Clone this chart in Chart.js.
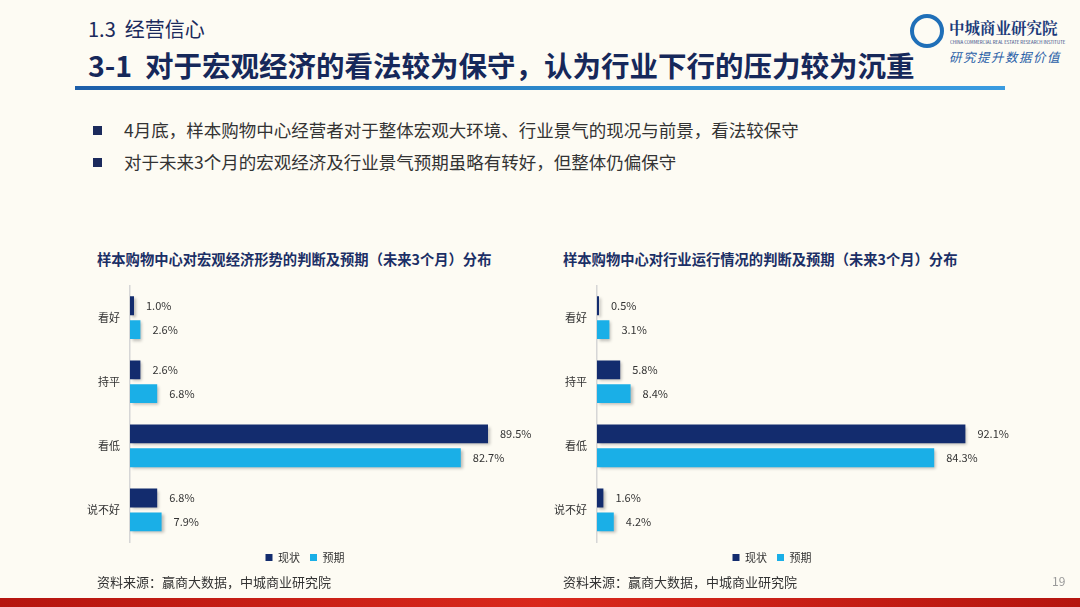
<!DOCTYPE html>
<html>
<head>
<meta charset="utf-8">
<script src="https://cdn.jsdelivr.net/npm/chart.js@4"></script>
<style>
  html, body { margin:0; padding:0; }
  body { width:1080px; height:607px; position:relative; overflow:hidden;
         background:#fdfbf3; font-family:"Noto Sans CJK SC","Noto Sans",sans-serif; color:#333; }
  .abs { position:absolute; white-space:nowrap; }
  #sec { left:88px; top:14px; font-size:20px; color:#1b2a5c; }
  #title { left:88px; top:44px; font-size:28.5px; font-weight:bold; color:#16285a; }
  #rule { left:75px; top:86px; width:930px; height:4px; background:linear-gradient(90deg,#1d5ea8,#2f8fd0 60%,#3a9be0); }
  .bullet { left:93px; font-size:17.5px; color:#333; }
  .bullet span { display:inline-block; width:9px; height:9px; background:#1b2a5c; margin-right:22px; vertical-align:middle; position:relative; top:-2px; }
  .ctitle { font-size:14.3px; font-weight:bold; color:#1b2f66; }
  .src { font-size:13px; color:#333; }
  #page { left:1052px; top:572px; font-size:12px; color:#999; }
  #band { left:0; top:598px; width:1080px; height:9px; background:linear-gradient(90deg,#b5150f,#d9281c 50%,#b5150f); }
  canvas { position:absolute; }
  #logo-circle { left:910px; top:14px; width:26px; height:26px; border:4px solid #1f6fb8; border-radius:50%; }
  #logo-cn { left:949px; top:16px; font-size:15.5px; font-weight:bold; color:#1b3a7a; font-family:"Noto Serif CJK SC","Noto Sans CJK SC",serif; }
  #logo-en { left:950px; top:39px; font-size:8px; color:#1b3a7a; transform:scale(0.55); transform-origin:0 0; }
  #logo-sl { left:949px; top:47px; font-size:12.5px; color:#2a5fa8; font-style:italic; letter-spacing:1.5px; }
</style>
</head>
<body>
<div id="sec" class="abs">1.3&nbsp; 经营信心</div>
<div id="title" class="abs">3-1&nbsp; 对于宏观经济的看法较为保守，认为行业下行的压力较为沉重</div>
<div id="rule" class="abs"></div>
<div id="logo-circle" class="abs"></div>
<div id="logo-cn" class="abs">中城商业研究院</div>
<div id="logo-en" class="abs">CHINA COMMERCIAL REAL ESTATE RESEARCH INSTITUTE</div>
<div id="logo-sl" class="abs">研究提升数据价值</div>

<div class="abs bullet" style="top:117px"><span></span>4月底，样本购物中心经营者对于整体宏观大环境、行业景气的现况与前景，看法较保守</div>
<div class="abs bullet" style="top:149px"><span></span>对于未来3个月的宏观经济及行业景气预期虽略有转好，但整体仍偏保守</div>

<div class="abs ctitle" style="left:97px; top:248px">样本购物中心对宏观经济形势的判断及预期（未来3个月）分布</div>
<div class="abs ctitle" style="left:563px; top:248px">样本购物中心对行业运行情况的判断及预期（未来3个月）分布</div>

<canvas id="c1" width="466" height="304" style="left:80px; top:269px"></canvas>
<canvas id="c2" width="466" height="304" style="left:547px; top:269px"></canvas>

<div class="abs src" style="left:97px; top:572px">资料来源：赢商大数据，中城商业研究院</div>
<div class="abs src" style="left:563px; top:572px">资料来源：赢商大数据，中城商业研究院</div>
<div id="page" class="abs">19</div>
<div id="band" class="abs"></div>

<script>
var categories = ['看好', '持平', '看低', '说不好'];
var seriesNames = ['现状', '预期'];
var macroNow = [1.0, 2.6, 89.5, 6.8];
var macroExp = [2.6, 6.8, 82.7, 7.9];
var industryNow = [0.5, 5.8, 92.1, 1.6];
var industryExp = [3.1, 8.4, 84.3, 4.2];

var darkBlue = '#132c6e';
var lightBlue = '#1aafe7';

// value labels at the end of each bar
var labelPlugin = {
    id: 'valueLabels',
    afterDatasetsDraw: function(chart){
        var ctx = chart.ctx;
        ctx.save();
        ctx.font = '11px "Noto Sans CJK SC", sans-serif';
        ctx.fillStyle = '#333';
        ctx.textBaseline = 'middle';
        ctx.textAlign = 'left';
        chart.data.datasets.forEach(function(ds, i){
            var meta = chart.getDatasetMeta(i);
            meta.data.forEach(function(bar, j){
                ctx.fillText(ds.data[j].toFixed(1) + '%', bar.x + 12, bar.y);
            });
        });
        ctx.restore();
    }
};

// soft drop shadow under bars
var shadowPlugin = {
    id: 'barShadow',
    beforeDatasetsDraw: function(chart){
        var ctx = chart.ctx;
        ctx.save();
        ctx.shadowColor = 'rgba(0,0,0,0.25)';
        ctx.shadowBlur = 3;
        ctx.shadowOffsetX = 2;
        ctx.shadowOffsetY = 2;
    },
    afterDatasetsDraw: function(chart){
        chart.ctx.restore();
    }
};

function criaGrafico(id, now, exp){
    return new Chart(id, {
        type: 'bar',
        data: {
            labels: categories,
            datasets: [
                { label: seriesNames[0], data: now, backgroundColor: darkBlue },
                { label: seriesNames[1], data: exp, backgroundColor: lightBlue }
            ]
        },
        options: {
            indexAxis: 'y',
            responsive: false,
            animation: false,
            categoryPercentage: 0.744,
            barPercentage: 0.79,
            layout: { padding: { top: 2, right: 16 } },
            scales: {
                x: { display: false, min: 0, max: 100 },
                y: {
                    afterFit: function(scale){ scale.width = 50; },
                    grid: { display: false, drawTicks: false },
                    border: { display: true, color: '#d6d6d6', width: 1.5 },
                    ticks: { color: '#333', padding: 10, font: { size: 11, family: '"Noto Sans CJK SC", sans-serif' } }
                }
            },
            plugins: {
                legend: {
                    position: 'bottom',
                    labels: { boxWidth: 7, boxHeight: 7, padding: 10, color: '#333',
                              font: { size: 11, family: '"Noto Sans CJK SC", sans-serif' } }
                },
                tooltip: { enabled: false }
            }
        },
        plugins: [shadowPlugin, labelPlugin]
    });
}

criaGrafico('c1', macroNow, macroExp);
criaGrafico('c2', industryNow, industryExp);
</script>
</body>
</html>
